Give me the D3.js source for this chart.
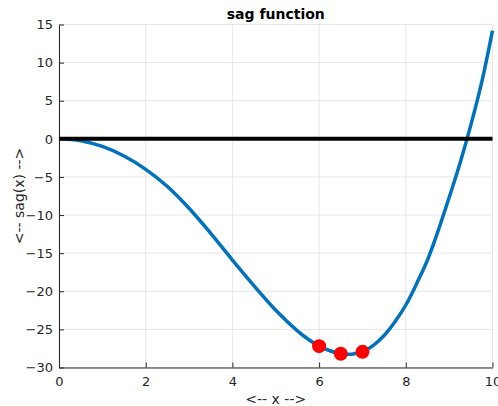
<!DOCTYPE html>
<html>
<head>
<meta charset="utf-8">
<script src="https://cdn.jsdelivr.net/npm/d3@7"></script>
<style>
  body { margin: 0; background: #fff; }
  svg { display: block; font-family: "DejaVu Sans", sans-serif; }
</style>
</head>
<body>
<svg></svg>
<script>
// values
let xs = [0, 0.5, 1, 1.5, 2, 2.5, 3, 3.5, 4, 4.5, 5, 5.5, 5.75, 6, 6.25, 6.5, 6.75, 7, 7.25, 7.5, 7.75, 8, 8.25, 8.5, 8.75, 9, 9.25, 9.5, 9.75, 10];
let sag = [0, -0.25, -1.0, -2.25, -4.0, -6.25, -9.1, -12.4, -15.9, -19.3, -22.5, -25.2, -26.3, -27.2, -27.8, -28.2, -28.25, -27.95, -27.1, -25.8, -24.0, -21.8, -19.0, -15.9, -12.0, -7.7, -3.2, 1.8, 7.4, 14.2];
let dotX = [6, 6.5, 7];
let dotY = [-27.2, -28.2, -27.95];
let xTicks = [0, 2, 4, 6, 8, 10];
let yTicks = [-30, -25, -20, -15, -10, -5, 0, 5, 10, 15];

let width = 498;
let height = 406;
let padLeft = 59, padRight = 492.5, padTop = 24.5, padBottom = 367.5;

let svg = d3.select('svg')
  .attr('width', width)
  .attr('height', height)

let xScale = d3.scaleLinear().domain([0, 10]).range([padLeft, padRight])
let yScale = d3.scaleLinear().domain([-30, 15]).range([padBottom, padTop])

// grid
svg.append('g')
  .selectAll('line')
  .data(xTicks)
  .enter()
  .append('line')
  .attr('x1', d => xScale(d)).attr('x2', d => xScale(d))
  .attr('y1', padTop).attr('y2', padBottom)
  .attr('stroke', '#e6e6e6').attr('stroke-width', 1)

svg.append('g')
  .selectAll('line')
  .data(yTicks)
  .enter()
  .append('line')
  .attr('x1', padLeft).attr('x2', padRight)
  .attr('y1', d => yScale(d)).attr('y2', d => yScale(d))
  .attr('stroke', '#e6e6e6').attr('stroke-width', 1)

// axes
let xAxis = d3.axisBottom(xScale).tickValues(xTicks).tickSizeInner(-5).tickSizeOuter(0).tickPadding(9)
let gx = svg.append('g')
  .attr('transform', `translate(0, ${padBottom})`)
  .call(xAxis)

let yAxis = d3.axisLeft(yScale).tickValues(yTicks).tickSizeInner(-5).tickSizeOuter(0).tickPadding(6)
let gy = svg.append('g')
  .attr('transform', `translate(${padLeft}, 0)`)
  .call(yAxis)

;[gx, gy].forEach(g => {
  g.select('.domain').attr('stroke', '#262626')
  g.selectAll('.tick line').attr('stroke', '#262626')
  g.selectAll('.tick text')
    .attr('fill', '#262626')
    .style('font-size', '13px')
    .style('font-family', '"DejaVu Sans", sans-serif')
})

// curve
let pts = xs.map((x, i) => [x, sag[i]])
let line = d3.line()
  .x(d => xScale(d[0]))
  .y(d => yScale(d[1]))
  .curve(d3.curveCatmullRom)

svg.append('path')
  .datum(pts)
  .attr('d', line)
  .attr('fill', 'none')
  .attr('stroke', '#0072bd')
  .attr('stroke-width', 3.5)

// zero line
svg.append('line')
  .attr('x1', xScale(0)).attr('x2', xScale(10))
  .attr('y1', yScale(0)).attr('y2', yScale(0))
  .attr('stroke', '#000').attr('stroke-width', 4)

// markers
svg.append('g')
  .selectAll('circle')
  .data(dotX)
  .enter()
  .append('circle')
  .attr('cx', d => xScale(d))
  .attr('cy', (d, i) => yScale(dotY[i]))
  .attr('r', 7)
  .attr('fill', '#ff0000')

// labels
svg.append('text')
  .attr('x', (padLeft + padRight) / 2).attr('y', 19)
  .attr('text-anchor', 'middle')
  .style('font-size', '14px').style('font-weight', 'bold')
  .attr('fill', '#000')
  .text('sag function')

svg.append('text')
  .attr('x', (padLeft + padRight) / 2).attr('y', 404)
  .attr('text-anchor', 'middle')
  .style('font-size', '14px')
  .attr('fill', '#262626')
  .text('<-- x -->')

svg.append('text')
  .attr('transform', `translate(24, ${(padTop + padBottom) / 2}) rotate(-90)`)
  .attr('text-anchor', 'middle')
  .style('font-size', '14px')
  .attr('fill', '#262626')
  .text('<-- sag(x) -->')
</script>
</body>
</html>
